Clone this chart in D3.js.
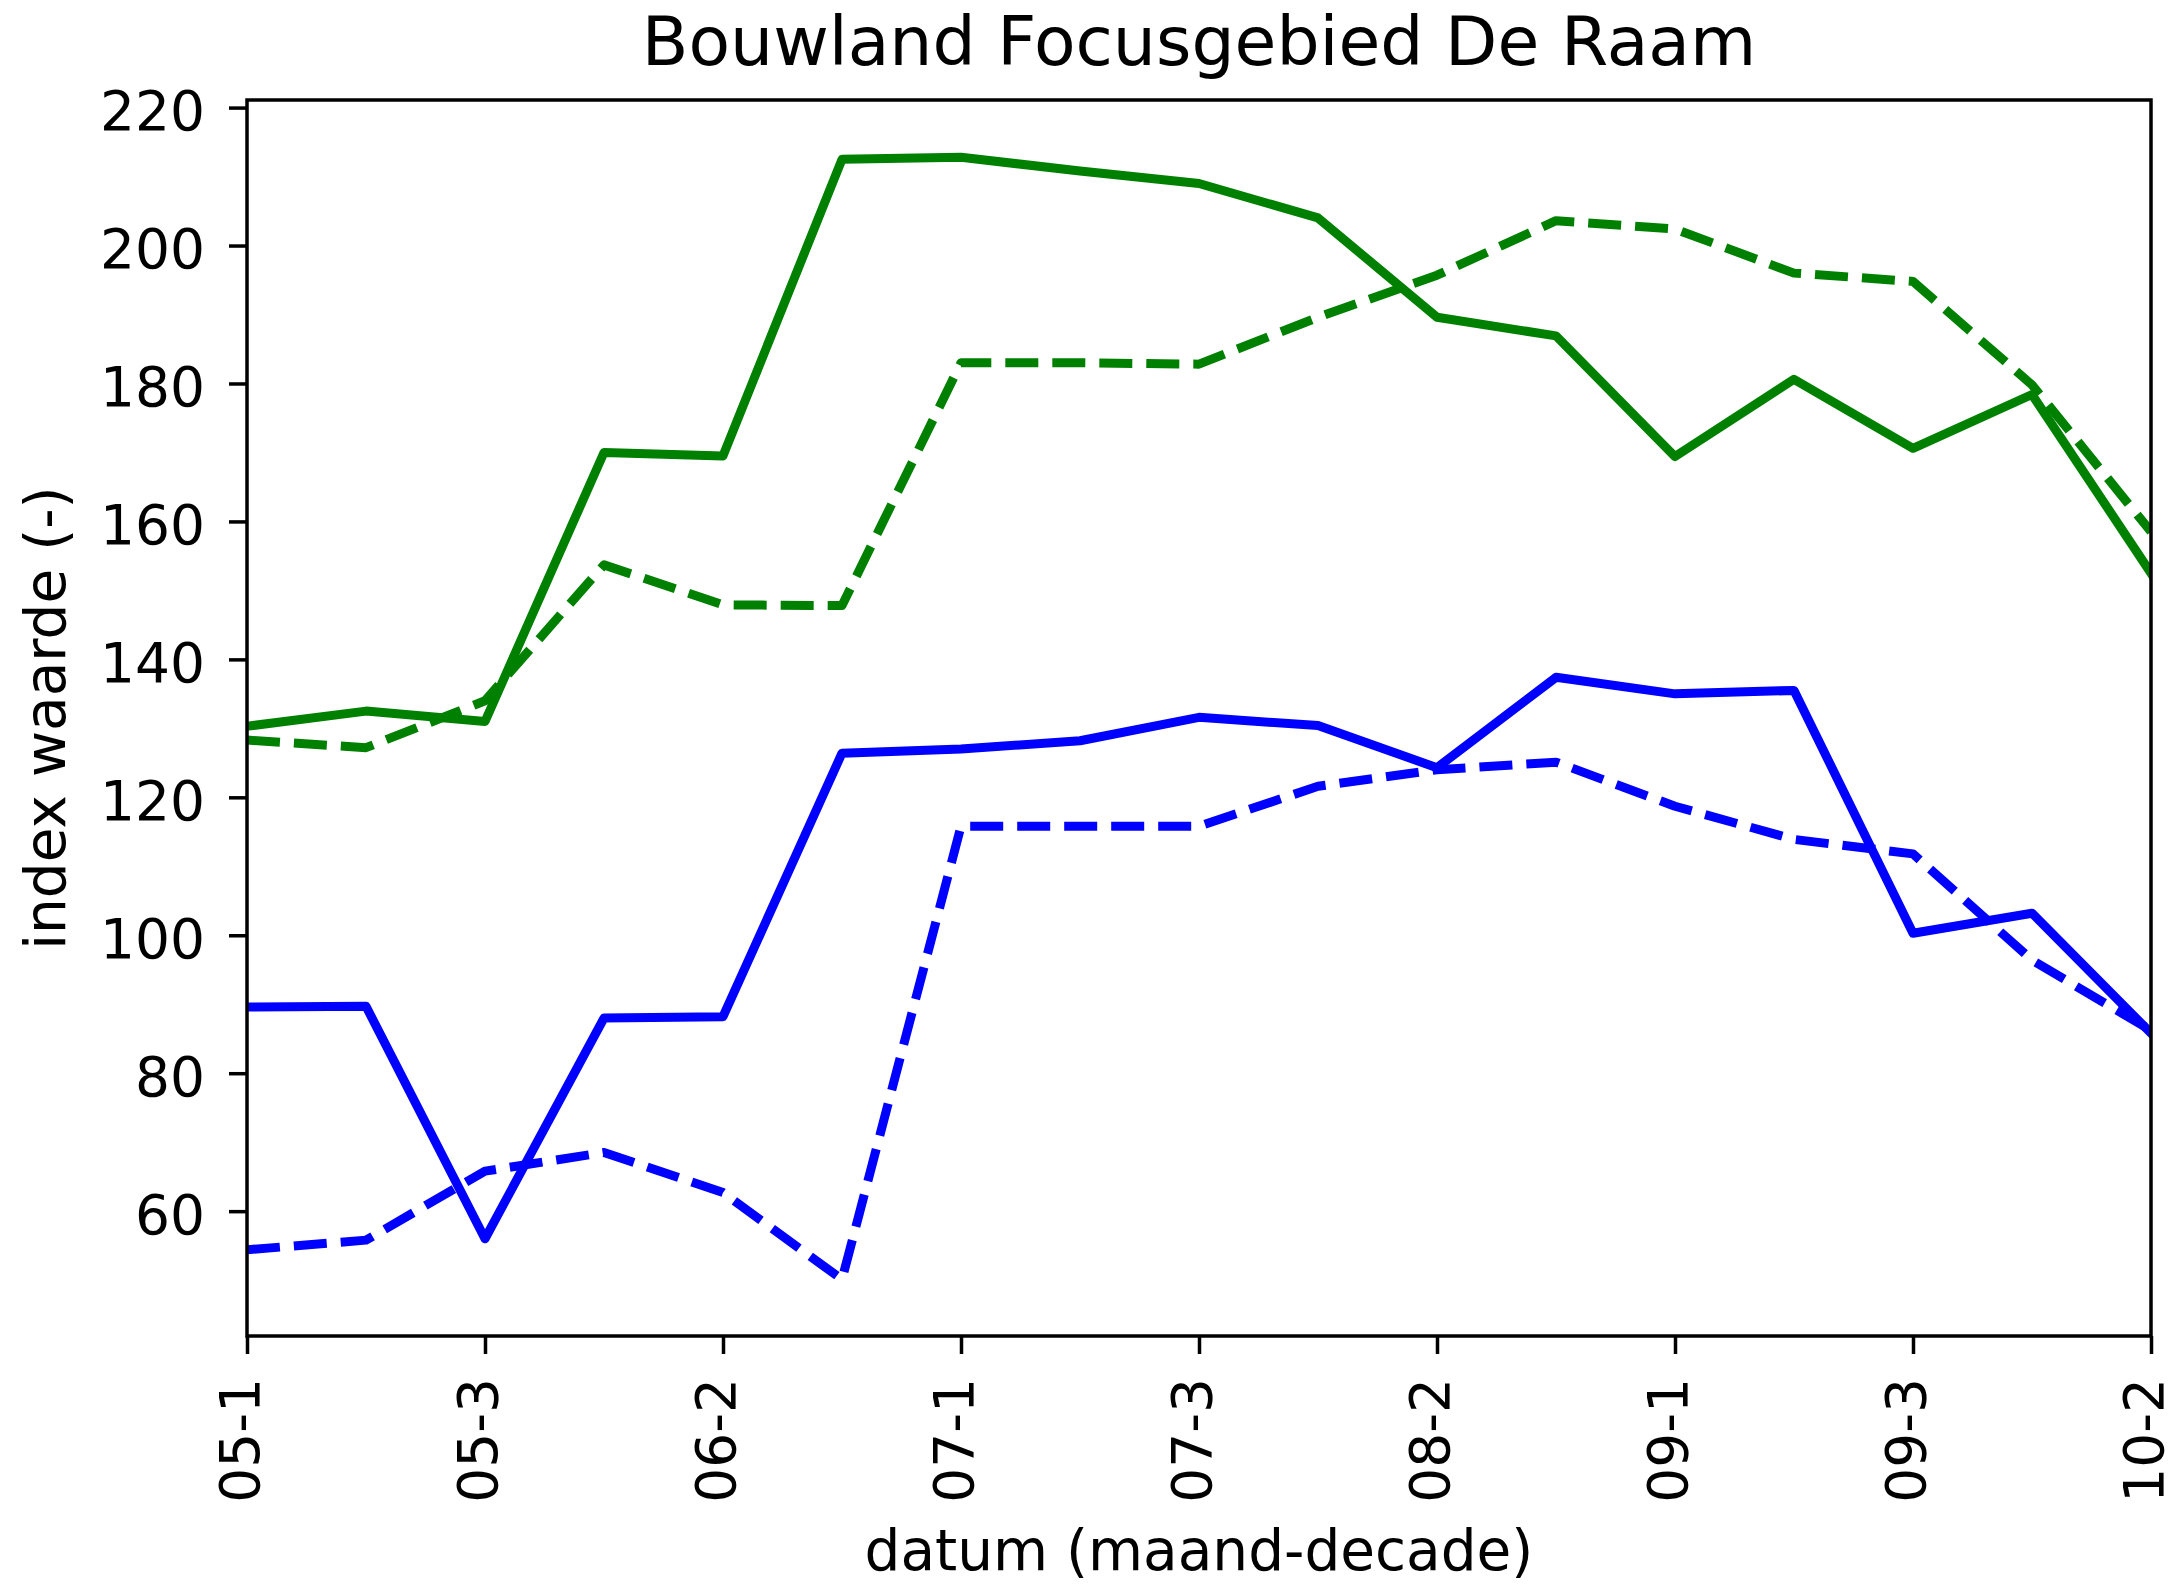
<!DOCTYPE html>
<html>
<head>
<meta charset="utf-8">
<script src="https://cdn.jsdelivr.net/npm/d3@7"></script>
<style>
  html, body { margin: 0; padding: 0; background: #ffffff; }
  svg { display: block; }
  text { font-family: "DejaVu Sans", sans-serif; fill: #000; }
</style>
</head>
<body>
<svg id="chart" width="2175" height="1584"></svg>
<script>
// ---- data ----
const categories = ['05-1','05-2','05-3','06-1','06-2','06-3','07-1','07-2','07-3',
                    '08-1','08-2','08-3','09-1','09-2','09-3','10-1','10-2'];
const xTickLabels = ['05-1','05-3','06-2','07-1','07-3','08-2','09-1','09-3','10-2'];
const yTickValues = [60, 80, 100, 120, 140, 160, 180, 200, 220];

const greenSolid  = [130.3, 132.5, 131.0, 170.0, 169.5, 212.5, 212.8, 210.8, 209.0,
                     204.0, 189.6, 186.9, 169.4, 180.6, 170.6, 178.4, 152.5];
const greenDashed = [128.3, 127.2, 134.0, 153.7, 147.9, 147.8, 183.0, 183.0, 182.8,
                     189.6, 195.7, 203.6, 202.4, 196.0, 194.8, 179.8, 158.5];
const blueSolid   = [89.6, 89.7, 56.0, 88.0, 88.2, 126.4, 127.0, 128.2, 131.6,
                     130.4, 124.3, 137.4, 135.0, 135.5, 100.3, 103.2, 85.8];
const blueDashed  = [54.4, 55.8, 65.8, 68.5, 62.7, 50.1, 115.8, 115.8, 115.8,
                     121.6, 124.0, 125.1, 118.7, 113.9, 111.8, 96.4, 86.2];

const titleText = 'Bouwland Focusgebied De Raam';
const xLabelText = 'datum (maand-decade)';
const yLabelText = 'index waarde (-)';

// ---- layout ----
const W = 2175, H = 1584;
const plot = { left: 247, right: 2151, top: 100, bottom: 1336 };
const yDomain = [41.9, 221.1];

const svg = d3.select('#chart');
svg.append('rect').attr('width', W).attr('height', H).attr('fill', '#fff');

const x = d3.scalePoint().domain(categories).range([plot.left, plot.right]);
const y = d3.scaleLinear().domain(yDomain).range([plot.bottom, plot.top]);

// clip
svg.append('defs').append('clipPath').attr('id', 'clip')
  .append('rect')
  .attr('x', plot.left).attr('y', plot.top)
  .attr('width', plot.right - plot.left).attr('height', plot.bottom - plot.top);

const series = [
  { values: greenSolid,  color: '#008000', dash: null },
  { values: greenDashed, color: '#008000', dash: '33,14' },
  { values: blueSolid,   color: '#0000ff', dash: null },
  { values: blueDashed,  color: '#0000ff', dash: '33,14' }
];

const line = d3.line()
  .x((d, i) => x(categories[i]))
  .y(d => y(d));

const lines = svg.append('g').attr('clip-path', 'url(#clip)');
series.forEach(s => {
  lines.append('path')
    .datum(s.values)
    .attr('d', line)
    .attr('fill', 'none')
    .attr('stroke', s.color)
    .attr('stroke-width', 9)
    .attr('stroke-linejoin', 'round')
    .attr('stroke-linecap', s.dash ? 'butt' : 'square')
    .attr('stroke-dasharray', s.dash);
});

// axes
const tickLen = 18;
const xAxis = d3.axisBottom(x).tickValues(xTickLabels).tickSize(tickLen).tickSizeOuter(0);
const gx = svg.append('g').attr('transform', `translate(0,${plot.bottom})`).call(xAxis);
gx.select('.domain').remove();
gx.selectAll('.tick line').attr('stroke', '#000').attr('stroke-width', 3.5);
gx.selectAll('.tick text')
  .attr('x', 0).attr('y', 0)
  .attr('dy', '0.2em')
  .attr('transform', `translate(0,${42}) rotate(-90)`)
  .attr('text-anchor', 'end')
  .style('font-size', '55px')
  .style('font-family', '"DejaVu Sans", sans-serif')
  .attr('fill', '#000');

const yAxis = d3.axisLeft(y).tickValues(yTickValues).tickSize(tickLen).tickPadding(24)
  .tickSizeOuter(0).tickFormat(d3.format('d'));
const gy = svg.append('g').attr('transform', `translate(${plot.left},0)`).call(yAxis);
gy.select('.domain').remove();
gy.selectAll('.tick line').attr('stroke', '#000').attr('stroke-width', 3.5);
gy.selectAll('.tick text')
  .attr('dy', '0.4em')
  .style('font-size', '55px')
  .style('font-family', '"DejaVu Sans", sans-serif')
  .attr('fill', '#000');

// frame
svg.append('rect')
  .attr('x', plot.left).attr('y', plot.top)
  .attr('width', plot.right - plot.left).attr('height', plot.bottom - plot.top)
  .attr('fill', 'none').attr('stroke', '#000').attr('stroke-width', 3.5);

// title & labels
const cx = (plot.left + plot.right) / 2;
svg.append('text')
  .attr('x', cx).attr('y', 65)
  .attr('text-anchor', 'middle')
  .style('font-size', '68px')
  .text(titleText);

svg.append('text')
  .attr('x', cx).attr('y', 1570)
  .attr('text-anchor', 'middle')
  .style('font-size', '56.5px')
  .text(xLabelText);

svg.append('text')
  .attr('transform', `translate(65,${(plot.top + plot.bottom) / 2}) rotate(-90)`)
  .attr('text-anchor', 'middle')
  .style('font-size', '56.5px')
  .text(yLabelText);
</script>
</body>
</html>
